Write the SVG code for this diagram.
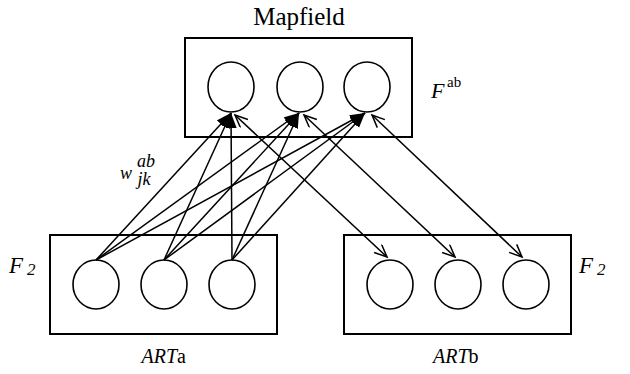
<svg xmlns="http://www.w3.org/2000/svg" width="630" height="374" viewBox="0 0 630 374">
  <style>
    .box { fill: none; stroke: #000; stroke-width: 2; }
    .unit { fill: #fff; stroke: #000; stroke-width: 1.6; }
    .lbl { font-family: "Liberation Serif", "Times New Roman", serif; fill: #000; }
    .it { font-style: italic; }
    .w { stroke: #000; stroke-width: 1.5; fill: none; marker-end: url(#solid); }
    .link { stroke: #000; stroke-width: 1.5; fill: none; marker-start: url(#open); marker-end: url(#open); }
  </style>
  <defs>
    <marker id="solid" markerUnits="userSpaceOnUse" markerWidth="16" markerHeight="12" refX="15" refY="5.5" orient="auto">
      <path d="M0,0 L15,5.5 L0,11 z" fill="#000"/>
    </marker>
    <marker id="open" markerUnits="userSpaceOnUse" markerWidth="15" markerHeight="14" refX="13" refY="6" orient="auto-start-reverse">
      <path d="M0.5,0.5 L13,6 L0.5,11.5" fill="none" stroke="#000" stroke-width="1.5"/>
    </marker>
  </defs>

  <!-- map field layer -->
  <g id="mapfield">
    <rect class="box" x="185" y="38" width="227" height="99"/>
    <ellipse class="unit" cx="231" cy="87" rx="23" ry="25"/>
    <ellipse class="unit" cx="300" cy="87" rx="23" ry="25"/>
    <ellipse class="unit" cx="367" cy="87" rx="23" ry="25"/>
    <text class="lbl" x="299" y="25" font-size="25" text-anchor="middle">Mapfield</text>
    <text class="lbl it" x="431" y="98" font-size="22">F</text>
    <text class="lbl" x="447" y="87" font-size="15">ab</text>
  </g>

  <!-- ARTa F2 layer -->
  <g id="arta">
    <rect class="box" x="50" y="235" width="227" height="99"/>
    <ellipse class="unit" cx="96" cy="284.5" rx="23" ry="24.5"/>
    <ellipse class="unit" cx="164" cy="284.5" rx="23" ry="24.5"/>
    <ellipse class="unit" cx="232" cy="284.5" rx="23" ry="24.5"/>
    <text class="lbl it" x="9" y="273" font-size="23">F</text>
    <text class="lbl it" x="27" y="275" font-size="17">2</text>
    <text class="lbl" x="141.5" y="363" font-size="20"><tspan class="it">ART</tspan>a</text>
  </g>

  <!-- ARTb F2 layer -->
  <g id="artb">
    <rect class="box" x="344" y="235" width="227" height="99"/>
    <ellipse class="unit" cx="390" cy="284.5" rx="23" ry="24.5"/>
    <ellipse class="unit" cx="458" cy="284.5" rx="23" ry="24.5"/>
    <ellipse class="unit" cx="526" cy="284.5" rx="23" ry="24.5"/>
    <text class="lbl it" x="579" y="273" font-size="23">F</text>
    <text class="lbl it" x="597" y="275" font-size="17">2</text>
    <text class="lbl" x="433" y="363" font-size="20"><tspan class="it">ART</tspan>b</text>
  </g>

  <!-- weight label -->
  <g id="weight-label">
    <text class="lbl it" x="120" y="179" font-size="18">w</text>
    <text class="lbl it" x="137" y="166.5" font-size="18">ab</text>
    <text class="lbl it" x="137.5" y="185" font-size="18">jk</text>
  </g>

  <!-- connectors -->
  <g id="connectors">
    <line class="w" x1="96" y1="260" x2="231" y2="113"/>
    <line class="w" x1="96" y1="260" x2="299" y2="113"/>
    <line class="w" x1="96" y1="260" x2="365" y2="113"/>
    <line class="w" x1="164" y1="260" x2="231" y2="113"/>
    <line class="w" x1="164" y1="260" x2="299" y2="113"/>
    <line class="w" x1="164" y1="260" x2="365" y2="113"/>
    <line class="w" x1="232" y1="260" x2="231" y2="113"/>
    <line class="w" x1="232" y1="260" x2="299" y2="113"/>
    <line class="w" x1="232" y1="260" x2="365" y2="113"/>
    <line class="link" x1="235" y1="115" x2="387" y2="257"/>
    <line class="link" x1="304" y1="115" x2="455" y2="257"/>
    <line class="link" x1="372" y1="115" x2="522" y2="257"/>
  </g>
</svg>
